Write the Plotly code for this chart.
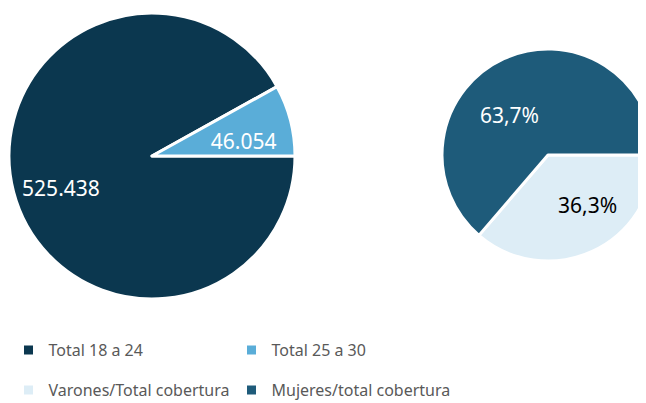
import plotly.graph_objects as go

# Left pie: totals by age group
age_labels = ["Total 18 a 24", "Total 25 a 30"]
age_values = [525438, 46054]
age_colors = ["#0B374F", "#5AADD8"]
age_text_colors = ["#FFFFFF", "#FFFFFF"]

# Right pie: share of coverage by sex (%)
sex_labels = ["Varones/Total cobertura", "Mujeres/total cobertura"]
sex_values = [36.3, 63.7]
sex_colors = ["#DDEDF6", "#1E5B7A"]
sex_text_colors = ["#000000", "#FFFFFF"]

W, H = 646, 403
FONT = "Noto Sans"
NB = "\u00a0"
SMALL_LINE = '<span style="font-size:10px">' + NB + "</span><br>"

fig = go.Figure()

fig.add_trace(go.Pie(
    labels=age_labels, values=age_values, sort=False,
    direction="clockwise", rotation=90,
    marker=dict(colors=age_colors, line=dict(color="white", width=3)),
    texttemplate=[NB + "<br>%{value:,}" + NB * 8,
                  NB + "<br>%{value:,}" + NB * 7],
    textposition="inside",
    insidetextorientation="horizontal",
    textfont=dict(family=FONT, size=21, color=age_text_colors),
    domain=dict(x=[1 / W, 287 / W], y=[1 - 291 / H, 1 - 5 / H]),
    legend="legend", hoverinfo="label+value",
))

fig.add_trace(go.Pie(
    labels=sex_labels, values=sex_values, sort=False,
    direction="clockwise", rotation=90,
    marker=dict(colors=sex_colors, line=dict(color="white", width=3)),
    texttemplate=[NB * 6 + "%{value:.1f}%",
                  SMALL_LINE + "%{value:.1f}%" + NB * 6],
    textposition="inside",
    insidetextorientation="horizontal",
    textfont=dict(family=FONT, size=21, color=sex_text_colors),
    domain=dict(x=[434 / W, 1.0], y=[1 - 253 / H, 1 - 41 / H]),
    legend="legend2", hoverinfo="label+value",
))

legend_common = dict(
    orientation="h", xanchor="left", yanchor="middle",
    font=dict(family=FONT, size=16, color="#595959"),
    entrywidth=178, entrywidthmode="pixels",
    bgcolor="rgba(0,0,0,0)", itemclick=False, itemdoubleclick=False,
)

fig.update_layout(
    width=W, height=H,
    margin=dict(l=0, r=0, t=0, b=0),
    paper_bgcolor="white", plot_bgcolor="white",
    separators=",.",
    uniformtext=dict(minsize=21, mode="show"),
    legend=dict(x=0.5 / W, y=1 - 342 / H, **legend_common),
    legend2=dict(x=0.5 / W, y=1 - 382 / H, **legend_common),
    font=dict(family=FONT),
)

fig.write_html("out.html")
